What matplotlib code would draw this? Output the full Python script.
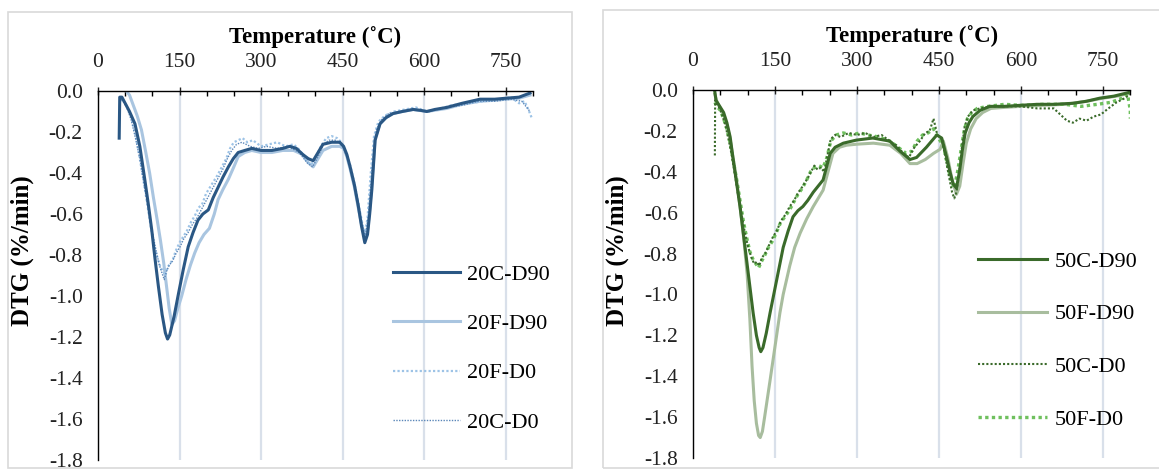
import numpy as np
import matplotlib
matplotlib.use('Agg')
import matplotlib.pyplot as plt
from matplotlib.patches import Rectangle
from matplotlib.ticker import MultipleLocator, FuncFormatter

plt.rcParams['font.family'] = ['Liberation Serif', 'DejaVu Serif']

# ---- 20% series ----
t_20c_d90 = [39, 40, 44, 50, 58, 68, 77, 86, 93, 99,
             105, 111, 118, 124, 128, 132, 140, 148, 157, 166,
             175, 184, 193, 203, 212, 221, 230, 240, 249, 258,
             270, 283, 300, 320, 340, 353, 365, 377, 387, 396,
             405, 414, 430, 445, 452, 458, 464, 472, 479, 485,
             491, 496, 500, 504, 510, 519, 530, 543, 560, 580,
             595, 605, 620, 642, 670, 703, 730, 752, 775, 795]
dtg_20c_d90 = [-0.23, -0.03, -0.03, -0.06, -0.10, -0.16, -0.27, -0.43, -0.56, -0.68,
               -0.82, -0.95, -1.09, -1.18, -1.21, -1.19, -1.10, -0.99, -0.87, -0.76,
               -0.69, -0.63, -0.60, -0.58, -0.52, -0.47, -0.42, -0.37, -0.33, -0.30,
               -0.29, -0.28, -0.29, -0.29, -0.28, -0.27, -0.28, -0.31, -0.33, -0.34,
               -0.30, -0.26, -0.25, -0.25, -0.27, -0.31, -0.37, -0.46, -0.56, -0.66,
               -0.74, -0.70, -0.60, -0.48, -0.24, -0.16, -0.13, -0.11, -0.10, -0.09,
               -0.095, -0.10, -0.09, -0.08, -0.06, -0.04, -0.04, -0.035, -0.03, -0.01]

t_20f_d90 = [52, 58, 65, 72, 80, 88, 95, 102, 109, 115,
             121, 126, 131, 136, 141, 147, 154, 162, 170, 178,
             186, 195, 205, 214, 221, 230, 240, 250, 258, 270,
             283, 300, 320, 340, 360, 377, 387, 396, 405, 414,
             430, 445, 452, 458, 464, 472, 479, 485, 491, 496,
             500, 504, 510, 519, 530, 543, 560, 580, 605, 642,
             670, 703, 730, 752, 775, 795]
dtg_20f_d90 = [0.00, -0.02, -0.07, -0.12, -0.19, -0.30, -0.40, -0.52, -0.63, -0.73,
               -0.84, -0.95, -1.06, -1.14, -1.12, -1.06, -1.00, -0.92, -0.85, -0.79,
               -0.74, -0.70, -0.67, -0.60, -0.53, -0.48, -0.43, -0.37, -0.32, -0.30,
               -0.29, -0.30, -0.30, -0.29, -0.29, -0.31, -0.35, -0.37, -0.33, -0.29,
               -0.27, -0.27, -0.28, -0.32, -0.38, -0.47, -0.57, -0.65, -0.71, -0.68,
               -0.58, -0.45, -0.23, -0.16, -0.13, -0.11, -0.10, -0.09, -0.10, -0.085,
               -0.065, -0.05, -0.045, -0.04, -0.035, -0.02]

t_20f_d0 = [40, 45, 52, 60, 68, 75, 82, 90, 97, 104,
            110, 115, 120, 124, 128, 133, 138, 143, 150, 157,
            164, 171, 178, 185, 192, 199, 206, 213, 220, 228,
            236, 243, 250, 258, 266, 275, 285, 300, 315, 330,
            345, 360, 372, 383, 392, 400, 410, 420, 430, 440,
            448, 456, 464, 472, 480, 486, 491, 496, 502, 508,
            516, 528, 545, 565, 585, 605, 625, 650, 680, 710,
            740, 760, 775, 785, 792, 798]
dtg_20f_d0 = [-0.05, -0.04, -0.07, -0.12, -0.20, -0.30, -0.41, -0.54, -0.66, -0.76,
              -0.82, -0.86, -0.88, -0.90, -0.86, -0.84, -0.82, -0.78, -0.74, -0.71,
              -0.68, -0.64, -0.61, -0.57, -0.55, -0.50, -0.47, -0.44, -0.41, -0.37,
              -0.33, -0.28, -0.25, -0.24, -0.23, -0.25, -0.24, -0.27, -0.26, -0.25,
              -0.27, -0.26, -0.29, -0.34, -0.36, -0.33, -0.27, -0.23, -0.22, -0.23,
              -0.25, -0.30, -0.36, -0.45, -0.56, -0.64, -0.70, -0.62, -0.40, -0.22,
              -0.15, -0.12, -0.10, -0.09, -0.08, -0.10, -0.09, -0.07, -0.06, -0.05,
              -0.04, -0.03, -0.06, -0.05, -0.09, -0.13]

t_20c_d0 = [40, 46, 53, 61, 69, 77, 85, 93, 100, 107,
            113, 118, 122, 126, 131, 137, 144, 151, 158, 166,
            174, 182, 190, 198, 206, 214, 222, 230, 238, 246,
            255, 265, 280, 295, 310, 330, 350, 370, 385, 395,
            405, 415, 425, 438, 450, 460, 470, 478, 486, 492,
            498, 505, 512, 522, 535, 555, 580, 610, 640, 670,
            700, 730, 760, 780, 795]
dtg_20c_d0 = [-0.03, -0.05, -0.08, -0.14, -0.23, -0.33, -0.46, -0.58, -0.69, -0.78,
              -0.85, -0.89, -0.92, -0.88, -0.85, -0.83, -0.79, -0.76, -0.72, -0.69,
              -0.65, -0.62, -0.58, -0.54, -0.50, -0.46, -0.42, -0.38, -0.33, -0.29,
              -0.26, -0.25, -0.27, -0.28, -0.27, -0.28, -0.27, -0.30, -0.35, -0.37,
              -0.32, -0.26, -0.24, -0.24, -0.27, -0.33, -0.43, -0.53, -0.65, -0.71,
              -0.60, -0.36, -0.19, -0.14, -0.11, -0.10, -0.09, -0.10, -0.08, -0.07,
              -0.05, -0.05, -0.04, -0.05, -0.10]

# ---- 50% series ----
t_50c_d90 = [40, 42, 49, 56, 62, 68, 73, 79, 86, 92,
             98, 104, 110, 116, 121, 124, 128, 134, 141, 147,
             153, 159, 165, 174, 183, 192, 201, 210, 220, 229,
             238, 244, 251, 260, 275, 299, 329, 360, 379, 397,
             409, 427, 446, 455, 464, 470, 476, 482, 488, 493,
             498, 505, 512, 525, 543, 570, 598, 630, 660, 695,
             720, 744, 770, 793, 800]
dtg_50c_d90 = [-0.01, -0.05, -0.08, -0.11, -0.16, -0.23, -0.33, -0.44, -0.57, -0.70,
               -0.83, -0.96, -1.09, -1.20, -1.26, -1.28, -1.26, -1.19, -1.09, -1.01,
               -0.93, -0.85, -0.77, -0.69, -0.62, -0.59, -0.57, -0.54, -0.50, -0.47,
               -0.44, -0.38, -0.31, -0.28, -0.26, -0.245, -0.235, -0.25, -0.30, -0.34,
               -0.33, -0.28, -0.22, -0.235, -0.33, -0.40, -0.46, -0.48, -0.39, -0.29,
               -0.21, -0.16, -0.13, -0.10, -0.08, -0.08, -0.075, -0.07, -0.07, -0.065,
               -0.055, -0.04, -0.03, -0.015, -0.01]

t_50f_d90 = [40, 44, 50, 57, 63, 69, 75, 81, 87, 93,
             99, 104, 108, 112, 116, 120, 123, 127, 131, 136,
             141, 147, 153, 159, 165, 171, 177, 186, 196, 208,
             220, 229, 238, 247, 256, 268, 281, 300, 330, 360,
             380, 397, 410, 425, 440, 452, 458, 466, 474, 482,
             488, 494, 500, 508, 518, 530, 545, 570, 600, 640,
             680, 720, 750, 775, 800]
dtg_50f_d90 = [-0.02, -0.06, -0.09, -0.13, -0.18, -0.26, -0.36, -0.47, -0.59, -0.73,
               -0.90, -1.12, -1.35, -1.52, -1.63, -1.69, -1.70, -1.67, -1.60, -1.51,
               -1.42, -1.31, -1.20, -1.09, -1.00, -0.93, -0.86, -0.77, -0.70, -0.63,
               -0.57, -0.53, -0.49, -0.40, -0.31, -0.28, -0.27, -0.265, -0.26, -0.27,
               -0.31, -0.36, -0.36, -0.34, -0.31, -0.29, -0.25, -0.33, -0.44, -0.51,
               -0.47, -0.36, -0.26, -0.19, -0.14, -0.11, -0.09, -0.085, -0.08, -0.075,
               -0.07, -0.055, -0.04, -0.03, -0.015]

t_50c_d0 = [40, 40.5, 42, 47, 53, 59, 65, 71, 77, 83,
            89, 95, 101, 107, 112, 117, 121, 126, 132, 139,
            146, 153, 161, 169, 177, 185, 193, 201, 210, 216,
            222, 228, 234, 240, 246, 252, 260, 270, 285, 300,
            315, 330, 345, 360, 372, 385, 395, 405, 415, 425,
            433, 440, 447, 455, 462, 468, 474, 478, 482, 487,
            492, 497, 503, 512, 525, 545, 570, 600, 630, 660,
            672, 684, 695, 707, 720, 733, 746, 760, 775, 790,
            800]
dtg_50c_d0 = [-0.32, -0.05, -0.06, -0.08, -0.12, -0.17, -0.24, -0.32, -0.42, -0.52,
              -0.61, -0.70, -0.77, -0.82, -0.85, -0.84, -0.86, -0.82, -0.80, -0.76,
              -0.72, -0.69, -0.64, -0.61, -0.57, -0.54, -0.50, -0.47, -0.43, -0.40,
              -0.37, -0.39, -0.38, -0.40, -0.32, -0.24, -0.22, -0.23, -0.21, -0.22,
              -0.21, -0.23, -0.22, -0.25, -0.27, -0.31, -0.33, -0.28, -0.25, -0.21,
              -0.20, -0.14, -0.22, -0.24, -0.33, -0.42, -0.50, -0.53, -0.50, -0.40,
              -0.28, -0.18, -0.13, -0.10, -0.09, -0.08, -0.08, -0.08, -0.09, -0.09,
              -0.12, -0.15, -0.16, -0.14, -0.15, -0.13, -0.12, -0.09, -0.06, -0.04,
              -0.02]

t_50f_d0 = [40, 44, 50, 56, 62, 68, 74, 80, 86, 92,
            98, 104, 110, 115, 120, 125, 131, 138, 145, 152,
            160, 168, 176, 184, 192, 200, 208, 215, 222, 230,
            238, 245, 252, 262, 275, 290, 305, 320, 340, 360,
            375, 390, 400, 410, 420, 430, 440, 450, 458, 465,
            472, 478, 484, 490, 496, 502, 510, 520, 540, 570,
            600, 640, 680, 710, 740, 765, 785, 795, 800, 800]
dtg_50f_d0 = [-0.06, -0.08, -0.10, -0.14, -0.19, -0.26, -0.35, -0.44, -0.54, -0.64,
              -0.72, -0.79, -0.83, -0.85, -0.87, -0.84, -0.81, -0.77, -0.74, -0.70,
              -0.65, -0.62, -0.59, -0.55, -0.51, -0.48, -0.44, -0.40, -0.38, -0.37,
              -0.38, -0.33, -0.25, -0.22, -0.21, -0.22, -0.21, -0.22, -0.23, -0.25,
              -0.28, -0.31, -0.30, -0.25, -0.22, -0.21, -0.19, -0.24, -0.27, -0.36,
              -0.44, -0.48, -0.40, -0.30, -0.20, -0.14, -0.11, -0.09, -0.08, -0.07,
              -0.075, -0.07, -0.07, -0.08, -0.07, -0.06, -0.04, -0.02, -0.10, -0.14]

temp_ticks = [0, 150, 300, 450, 600, 750]
dtg_ticks = [0.0, -0.2, -0.4, -0.6, -0.8, -1.0, -1.2, -1.4, -1.6, -1.8]

W, H = 1159, 471
fig = plt.figure(figsize=(W / 100, H / 100), dpi=100)

# light frames around each chart
for x0, y0, x1, y1 in [(8, 12, 572, 468), (603, 10, 1170, 468)]:
    fig.patches.append(Rectangle((x0 / W, 1 - y1 / H), (x1 - x0) / W, (y1 - y0) / H,
                                 transform=fig.transFigure, fill=False,
                                 edgecolor='#d9d9d9', lw=1.2))


def setup(ax):
    ax.set_xlim(0, 800)
    ax.set_ylim(-1.8, 0)
    ax.xaxis.tick_top()
    ax.xaxis.set_label_position('top')
    ax.set_xticks(temp_ticks)
    ax.xaxis.set_minor_locator(MultipleLocator(50))
    ax.set_yticks(dtg_ticks)
    ax.yaxis.set_major_formatter(FuncFormatter(lambda v, p: f'{round(v, 1) + 0:.1f}'))
    for s in ['bottom', 'right']:
        ax.spines[s].set_visible(False)
    for s in ['top', 'left']:
        ax.spines[s].set_color('black')
        ax.spines[s].set_linewidth(1.0)
    ax.tick_params(axis='x', which='major', direction='inout', length=6, width=1,
                   labelsize=15.5, pad=11, colors='#222222')
    ax.tick_params(axis='x', which='minor', direction='in', length=3.5, width=1)
    ax.tick_params(axis='y', length=0, labelsize=15.5, pad=11, colors='#222222')
    ax.grid(axis='x', which='major', color='#d9e0ea', lw=1.6)
    ax.set_axisbelow(True)
    ax.set_xlabel('Temperature (˚C)', fontsize=16.5, fontweight='bold', labelpad=7)


ax1 = fig.add_axes([98 / W, 1 - 460 / H, 434.7 / W, 369 / H])
ax2 = fig.add_axes([693 / W, 1 - 458 / H, 437.3 / W, 368 / H])
for ax in (ax1, ax2):
    setup(ax)

dot = (0, (1, 1))

l20fd90, = ax1.plot(t_20f_d90, dtg_20f_d90, color='#a9c5e0', lw=2.2, label='20F-D90')
l20fd0, = ax1.plot(t_20f_d0, dtg_20f_d0, color='#9dc3e6', lw=1.6, ls=dot, label='20F-D0')
l20cd0, = ax1.plot(t_20c_d0, dtg_20c_d0, color='#5a86b8', lw=1.0, ls=dot, label='20C-D0')
l20cd90, = ax1.plot(t_20c_d90, dtg_20c_d90, color='#2a5784', lw=2.2, label='20C-D90')

l50fd90, = ax2.plot(t_50f_d90, dtg_50f_d90, color='#a8bd9e', lw=2.2, label='50F-D90')
l50fd0, = ax2.plot(t_50f_d0, dtg_50f_d0, color='#6fc05e', lw=2.4, ls=dot, label='50F-D0')
l50cd0, = ax2.plot(t_50c_d0, dtg_50c_d0, color='#3a6a2a', lw=1.5, ls=dot, label='50C-D0')
l50cd90, = ax2.plot(t_50c_d90, dtg_50c_d90, color='#3a6a2a', lw=2.2, label='50C-D90')

fig.text(22 / W, 1 - 251 / H, 'DTG (%/min)', rotation=90, ha='center', va='center',
         fontsize=18, fontweight='bold')
fig.text(617 / W, 1 - 251 / H, 'DTG (%/min)', rotation=90, ha='center', va='center',
         fontsize=18, fontweight='bold')

fig.legend([l20cd90, l20fd90, l20fd0, l20cd0], ['20C-D90', '20F-D90', '20F-D0', '20C-D0'],
           loc='center left', bbox_to_anchor=(393 / W, 1 - 348.5 / H), frameon=False,
           fontsize=16, handlelength=3.0, handletextpad=0.35, labelspacing=1.3,
           borderpad=0, borderaxespad=0)
fig.legend([l50cd90, l50fd90, l50cd0, l50fd0], ['50C-D90', '50F-D90', '50C-D0', '50F-D0'],
           loc='center left', bbox_to_anchor=(978 / W, 1 - 340.5 / H), frameon=False,
           fontsize=16, handlelength=3.1, handletextpad=0.35, labelspacing=1.45,
           borderpad=0, borderaxespad=0)

fig.savefig('out.png', dpi=100)
